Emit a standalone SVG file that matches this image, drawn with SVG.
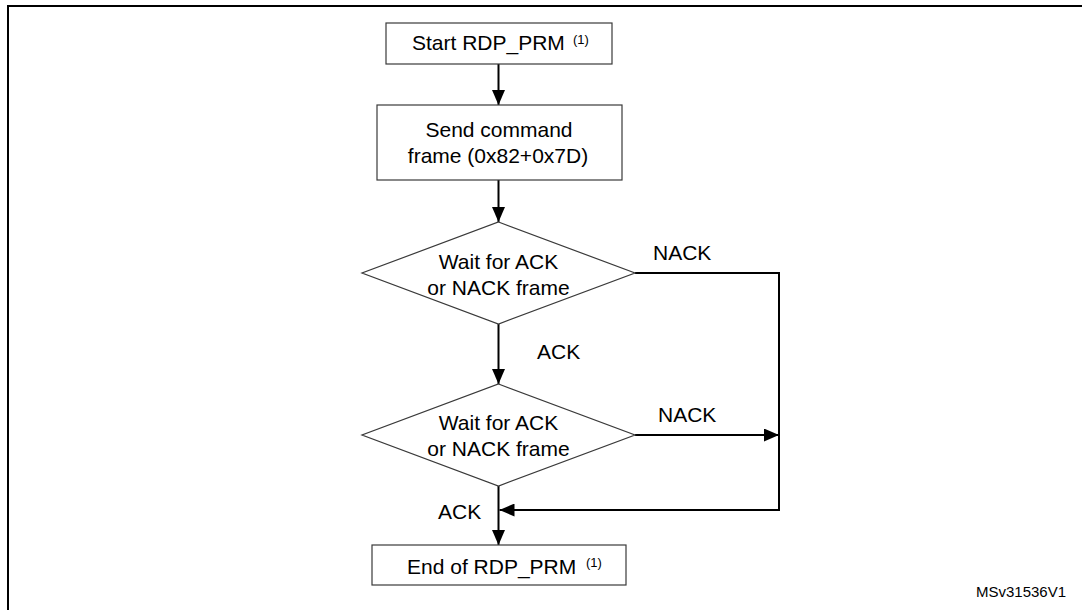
<svg xmlns="http://www.w3.org/2000/svg" width="1082" height="610" viewBox="0 0 1082 610">
  <style>
    text { font-family: "Liberation Sans", Arial, sans-serif; fill: #000; }
    .lbl { font-size: 21px; }
    .mid { text-anchor: middle; }
    .sup { font-size: 13px; }
    .box { fill: #fff; stroke: #3a3a3a; stroke-width: 1.2; }
    .conn { fill: none; stroke: #000; stroke-width: 2; }
  </style>
  <defs>
    <marker id="arr" viewBox="0 0 15 13" refX="15" refY="6.5" markerWidth="15" markerHeight="13" markerUnits="userSpaceOnUse" orient="auto">
      <path d="M0,0 L15,6.5 L0,13 z" fill="#000"/>
    </marker>
  </defs>

  <g id="frame">
    <path d="M8,610 L8,6 L1082,6" fill="none" stroke="#000" stroke-width="2"/>
  </g>

  <g id="connectors">
    <line class="conn" x1="498.5" y1="64" x2="498.5" y2="105" marker-end="url(#arr)"/>
    <line class="conn" x1="498.5" y1="180" x2="498.5" y2="222" marker-end="url(#arr)"/>
    <line class="conn" x1="498.5" y1="324" x2="498.5" y2="384" marker-end="url(#arr)"/>
    <line class="conn" x1="498.5" y1="486" x2="498.5" y2="545" marker-end="url(#arr)"/>
    <polyline class="conn" points="635,273 779,273 779,510 499.5,510" marker-end="url(#arr)"/>
    <line class="conn" x1="635" y1="435" x2="779" y2="435" marker-end="url(#arr)"/>
    <text class="lbl" x="653" y="260">NACK</text>
    <text class="lbl" x="537" y="359">ACK</text>
    <text class="lbl" x="658" y="422">NACK</text>
    <text class="lbl" x="438" y="519">ACK</text>
  </g>

  <g id="start">
    <rect class="box" x="386" y="23" width="226" height="41"/>
    <text class="lbl" x="412" y="50">Start RDP_PRM</text>
    <text class="sup" x="573" y="44">(1)</text>
  </g>

  <g id="send">
    <rect class="box" x="377" y="105" width="245" height="75"/>
    <text class="lbl mid" x="499" y="137">Send command</text>
    <text class="lbl mid" x="498" y="162.5">frame (0x82+0x7D)</text>
  </g>

  <g id="wait1">
    <polygon class="box" points="498.5,222 635,273 498.5,324 362,273"/>
    <text class="lbl mid" x="498.5" y="269">Wait for ACK</text>
    <text class="lbl mid" x="498.5" y="294.5">or NACK frame</text>
  </g>

  <g id="wait2">
    <polygon class="box" points="498.5,384 635,435 498.5,486 362,435"/>
    <text class="lbl mid" x="498.5" y="430">Wait for ACK</text>
    <text class="lbl mid" x="498.5" y="456">or NACK frame</text>
  </g>

  <g id="end">
    <rect class="box" x="372" y="545" width="254" height="40"/>
    <text class="lbl" x="407" y="574">End of RDP_PRM</text>
    <text class="sup" x="586" y="567">(1)</text>
  </g>

  <text x="976" y="597" style="font-size:15px">MSv31536V1</text>
</svg>
